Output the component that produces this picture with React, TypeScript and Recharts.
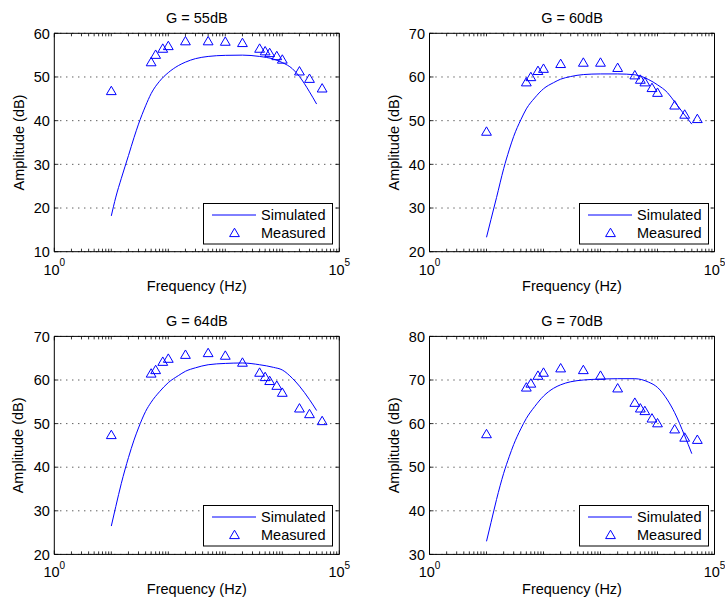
import React from 'react';
import {
  ComposedChart,
  Line,
  Scatter,
  XAxis,
  YAxis,
  CartesianGrid,
  ReferenceLine,
  Legend,
} from 'recharts';

// frequencies (Hz) of the measured points and of the sampled simulated curve
const measuredFreq = [10, 50, 60, 80, 100, 200, 500, 1000, 2000, 4000, 5000, 6000, 8000, 10000, 20000, 30000, 50000];
const simulatedFreq = [10, 12, 15, 20, 25, 30, 40, 50, 70, 100, 150, 200, 300, 500, 1000, 2000, 4000, 7000, 10000, 15000, 20000, 30000, 40000];

// amplitudes (dB)
const measured55 = [46.9, 53.5, 55.2, 56.6, 57.2, 58.3, 58.3, 58.2, 57.9, 56.6, 56.0, 55.6, 54.9, 54.1, 51.4, 49.7, 47.5];
const simulated55 = [18.2, 22.5, 26.8, 32.0, 36.1, 39.2, 43.4, 46.2, 49.0, 51.0, 52.6, 53.4, 54.2, 54.7, 54.95, 55.0, 54.7, 54.1, 53.3, 51.9, 50.1, 46.6, 43.8];

const measured60 = [47.6, 58.9, 60.1, 61.5, 62.0, 63.1, 63.4, 63.4, 62.2, 60.5, 59.5, 58.9, 57.6, 56.5, 53.6, 51.5, 50.5];
const simulated60 = [23.3, 27.4, 32.4, 39.0, 43.3, 46.4, 50.2, 52.7, 55.2, 57.3, 58.7, 59.5, 60.1, 60.55, 60.7, 60.7, 60.5, 59.4, 58.2, 56.4, 54.3, 51.3, 49.2];

const measured64 = [47.5, 61.6, 62.4, 64.3, 65.0, 65.9, 66.3, 65.7, 64.1, 61.8, 60.8, 59.9, 58.8, 57.2, 53.6, 52.3, 50.7];
const simulated64 = [26.5, 31.0, 36.3, 42.2, 46.2, 49.0, 52.8, 54.9, 57.3, 59.4, 61.0, 62.0, 62.8, 63.5, 63.8, 63.9, 63.5, 62.9, 62.3, 60.4, 58.6, 55.5, 53.0];

const measured70 = [57.7, 68.4, 69.3, 71.1, 71.8, 72.8, 72.4, 71.1, 68.2, 64.9, 63.6, 63.0, 61.3, 60.2, 58.8, 56.9, 56.4];
const simulated70 = [33.0, 37.3, 42.6, 48.6, 52.4, 55.2, 58.8, 61.2, 63.9, 66.3, 68.1, 68.9, 69.6, 70.0, 70.2, 70.3, 70.3, 69.5, 68.3, 65.4, 62.5, 57.2, 53.1];

const titles = ['G = 55dB', 'G = 60dB', 'G = 64dB', 'G = 70dB'];
const xLabelTicks = [1, 100000];
const decades = [1, 10, 100, 1000, 10000];
const xTicks = [...decades.flatMap((d) => [1, 2, 3, 4, 5, 6, 7, 8, 9].map((m) => m * d)), 100000];

const FONT = '"Liberation Sans", Arial, Helvetica, sans-serif';
const BLUE = '#0000ff';
const FS = 14.5;
const PLOT_W = 285;

const toRows = (freq: number[], amp: number[]) => freq.map((f, i) => ({ freq: f, amp: amp[i] }));

const Triangle = (props: any) => {
  const { cx, cy } = props;
  if (cx == null || cy == null) return null;
  return (
    <path
      d={`M${cx},${cy - 4.3} L${cx + 4.9},${cy + 4.1} L${cx - 4.9},${cy + 4.1} Z`}
      fill="none"
      stroke={BLUE}
      strokeWidth={1}
    />
  );
};

const makeXTick = (plotH: number) => (props: any) => {
  const { x, y, payload } = props;
  const v = payload.value;
  const labelled = xLabelTicks.includes(v);
  const len = labelled ? 4 : 3;
  return (
    <g>
      <line x1={x} y1={y} x2={x} y2={y - len} stroke="#000" strokeWidth={0.8} />
      <line x1={x} y1={y - plotH} x2={x} y2={y - plotH + len} stroke="#000" strokeWidth={0.8} />
      {labelled && (
        <text x={x} y={y + 23} textAnchor="middle" fontFamily={FONT} fontSize={FS} fill="#000">
          10
          <tspan dy={-8.5} fontSize={10}>
            {Math.round(Math.log10(v))}
          </tspan>
        </text>
      )}
    </g>
  );
};

const YTick = (props: any) => {
  const { x, y, payload } = props;
  return (
    <g>
      <line x1={x} y1={y} x2={x + 4} y2={y} stroke="#000" strokeWidth={0.8} />
      <line x1={x + PLOT_W} y1={y} x2={x + PLOT_W - 4} y2={y} stroke="#000" strokeWidth={0.8} />
      <text x={x - 4.5} y={y} dy="0.36em" textAnchor="end" fontFamily={FONT} fontSize={FS} fill="#000">
        {payload.value}
      </text>
    </g>
  );
};

const renderLegend = (props: any) => {
  // line entry first, then the markers, as in the original figure
  const payload = [...(props.payload || [])].sort(
    (a: any, b: any) => (a.type === 'line' ? 0 : 1) - (b.type === 'line' ? 0 : 1)
  );
  return (
    <svg width={130} height={42} style={{ display: 'block' }}>
      <rect x={0.5} y={0.5} width={129} height={40.5} fill="#fff" stroke="#000" strokeWidth={1} />
      {payload.map((entry: any, i: number) => {
        const cy = i === 0 ? 12 : 29.5;
        return (
          <g key={i}>
            {entry.type === 'line' ? (
              <line x1={9} y1={cy} x2={53} y2={cy} stroke={BLUE} strokeWidth={1} />
            ) : (
              <Triangle cx={31.5} cy={cy} />
            )}
            <text x={58} y={cy + 5.2} fontFamily={FONT} fontSize={FS} fill="#000">
              {entry.value}
            </text>
          </g>
        );
      })}
    </svg>
  );
};

interface PanelProps {
  title: string;
  measured: number[];
  simulated: number[];
  yMin: number;
  left: number;
  top: number;
  width: number;
  height: number;
  margin: { top: number; right: number; bottom: number; left: number };
}

const Panel: React.FC<PanelProps> = ({ title, measured, simulated, yMin, left, top, width, height, margin }) => {
  const yMax = yMin + 50;
  const yTicks = [0, 10, 20, 30, 40, 50].map((d) => yMin + d);
  const plotH = height - margin.top - margin.bottom - 30;
  const plotLeft = margin.left + 40;
  return (
    <div style={{ position: 'absolute', left, top, width, height }}>
      <ComposedChart width={width} height={height} margin={margin}>
        <CartesianGrid
          vertical={false}
          horizontal
          stroke="#000"
          strokeWidth={0.9}
          strokeDasharray="1 5"
        />
        <XAxis
          dataKey="freq"
          type="number"
          scale="log"
          domain={[1, 100000]}
          ticks={xTicks}
          interval={0}
          allowDataOverflow
          height={30}
          tickSize={0}
          tickMargin={0}
          tickLine={false}
          axisLine={{ stroke: '#000', strokeWidth: 1 }}
          tick={makeXTick(plotH)}
          label={{
            content: () => (
              <text
                x={plotLeft + PLOT_W / 2}
                y={margin.top + plotH + 39.3}
                textAnchor="middle"
                fontFamily={FONT}
                fontSize={FS}
                fill="#000"
              >
                Frequency (Hz)
              </text>
            ),
          }}
        />
        <YAxis
          type="number"
          domain={[yMin, yMax]}
          ticks={yTicks}
          interval={0}
          allowDataOverflow
          width={40}
          tickSize={0}
          tickMargin={0}
          tickLine={false}
          axisLine={{ stroke: '#000', strokeWidth: 1 }}
          tick={YTick}
          label={{
            content: () => {
              const lx = plotLeft - 30.8;
              const ly = margin.top + plotH / 2;
              return (
                <text
                  x={lx}
                  y={ly}
                  transform={`rotate(-90, ${lx}, ${ly})`}
                  textAnchor="middle"
                  fontFamily={FONT}
                  fontSize={FS}
                  fill="#000"
                >
                  Amplitude (dB)
                </text>
              );
            },
          }}
        />
        <ReferenceLine
          y={yMax}
          stroke="#000"
          strokeWidth={1}
          label={{
            content: () => (
              <text
                x={plotLeft + PLOT_W / 2}
                y={margin.top - 10.4}
                textAnchor="middle"
                fontFamily={FONT}
                fontSize={FS}
                fill="#000"
              >
                {title}
              </text>
            ),
          }}
        />
        <ReferenceLine x={100000} stroke="#000" strokeWidth={1} />
        <Line
          data={toRows(simulatedFreq, simulated)}
          dataKey="amp"
          type="monotone"
          stroke={BLUE}
          strokeWidth={1}
          dot={false}
          name="Simulated"
          legendType="line"
          isAnimationActive={false}
        />
        <Scatter
          data={toRows(measuredFreq, measured)}
          dataKey="amp"
          name="Measured"
          legendType="triangle"
          shape={Triangle}
          isAnimationActive={false}
        />
        <Legend
          layout="horizontal"
          align="center"
          verticalAlign="middle"
          width={130}
          height={42}
          content={renderLegend}
          wrapperStyle={{
            left: plotLeft + PLOT_W - 6.5 - 129.5,
            top: margin.top + plotH - 8 - 41,
            width: 130,
            height: 42,
          }}
        />
      </ComposedChart>
    </div>
  );
};

const App: React.FC = () => {
  const leftCol = { left: 0, width: 362, mLeft: 14.3, mRight: 22.7 };
  const rightCol = { left: 362, width: 363, mLeft: 27.5, mRight: 10.5 };
  const topRow = { top: 0, height: 302, mTop: 33.3, mBottom: 20.3 };
  const bottomRow = { top: 302, height: 302, mTop: 34.4, mBottom: 19.6 };
  const cells = [
    { col: leftCol, row: topRow, measured: measured55, simulated: simulated55, yMin: 10 },
    { col: rightCol, row: topRow, measured: measured60, simulated: simulated60, yMin: 20 },
    { col: leftCol, row: bottomRow, measured: measured64, simulated: simulated64, yMin: 20 },
    { col: rightCol, row: bottomRow, measured: measured70, simulated: simulated70, yMin: 30 },
  ];
  return (
    <div style={{ position: 'absolute', left: 0, top: 0, width: 725, height: 604, background: '#fff', fontFamily: FONT }}>
      {cells.map((c, i) => (
        <Panel
          key={i}
          title={titles[i]}
          measured={c.measured}
          simulated={c.simulated}
          yMin={c.yMin}
          left={c.col.left}
          top={c.row.top}
          width={c.col.width}
          height={c.row.height}
          margin={{ top: c.row.mTop, right: c.col.mRight, bottom: c.row.mBottom, left: c.col.mLeft }}
        />
      ))}
    </div>
  );
};

export default App;
